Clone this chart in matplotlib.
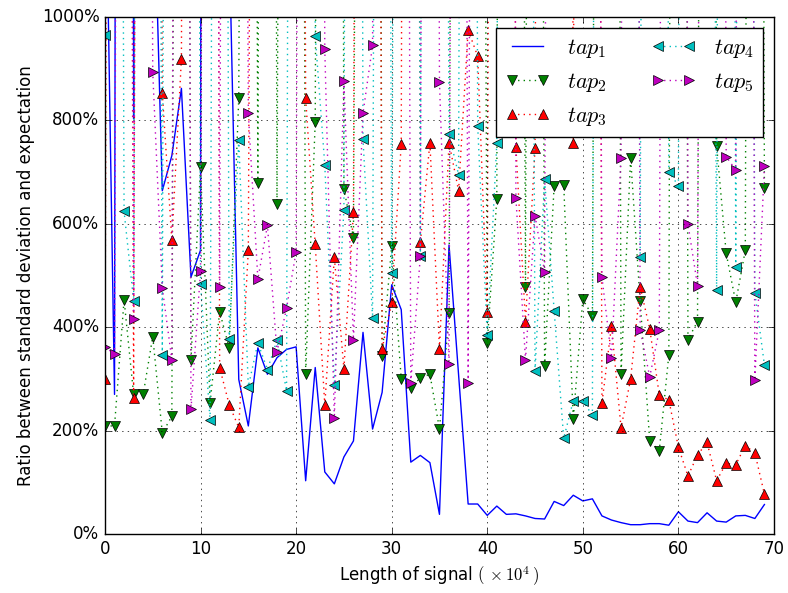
import numpy as np
import matplotlib
matplotlib.use("Agg")
import matplotlib.pyplot as plt
from matplotlib.ticker import PercentFormatter

plt.style.use("classic")

# signal length in units of 10^4
x = list(range(70))

# ratio std/expectation in %, values above 1000 run off the top of the chart
tap1 = [1400, 270, 12000, 803, 9000, 1340, 664, 732, 862, 497,
        549, 20000, 15000, 1150, 299, 209, 360, 309, 341, 357,
        362, 103, 322, 120, 97, 149, 180, 390, 203, 274,
        482, 434, 139, 152, 138, 38, 559, 308, 58, 58,
        36, 54, 38, 39, 35, 30, 29, 63, 55, 75,
        64, 68, 35, 27, 22, 18, 18, 20, 20, 17,
        43, 25, 22, 41, 25, 23, 35, 36, 30, 57]

tap2 = [209, 209, 453, 270, 270, 382, 195, 228, 6000, 337,
        709, 254, 430, 360, 843, 5200, 678, 7400, 639, 4800,
        6500, 310, 797, 5600, 8200, 668, 573, 4300, 7100, 345,
        557, 300, 283, 302, 309, 203, 427, 5900, 6800, 4500,
        370, 648, 7700, 5300, 478, 6200, 325, 674, 676, 222,
        454, 422, 5100, 6900, 309, 728, 450, 180, 161, 347,
        7300, 376, 411, 5500, 751, 543, 448, 549, 6600, 670]

tap3 = [299, 6100, 5400, 264, 7200, 4900, 853, 568, 919, 6300,
        5700, 8100, 322, 250, 206, 549, 4600, 7000, 5800, 6400,
        5000, 843, 560, 249, 535, 320, 622, 6700, 5300, 358,
        448, 755, 7500, 564, 757, 358, 757, 664, 975, 924,
        430, 6000, 5200, 748, 410, 746, 6800, 4700, 7300, 757,
        5600, 6200, 253, 403, 205, 300, 478, 397, 269, 259,
        168, 112, 153, 177, 103, 137, 134, 171, 157, 77]

tap4 = [966, 5800, 624, 451, 6600, 5100, 347, 7400, 4800, 6100,
        483, 220, 5500, 377, 762, 285, 370, 318, 375, 277,
        6900, 5300, 964, 714, 289, 627, 7100, 764, 418, 5900,
        504, 4600, 6300, 538, 7800, 5000, 773, 695, 6400, 789,
        384, 757, 5700, 7200, 4900, 315, 687, 432, 185, 258,
        257, 230, 6500, 5400, 7000, 4700, 536, 6000, 5200, 700,
        674, 6800, 5600, 4400, 472, 7500, 517, 5900, 467, 327]

tap5 = [362, 348, 6400, 416, 5200, 893, 476, 337, 7100, 241,
        509, 5600, 478, 6800, 4900, 814, 493, 597, 352, 437,
        546, 5900, 7300, 938, 224, 876, 376, 814, 945, 6200,
        4700, 5500, 293, 538, 7000, 874, 328, 6100, 293, 5300,
        7600, 4800, 6700, 650, 337, 616, 507, 5800, 6900, 5100,
        7200, 4600, 497, 341, 728, 6300, 395, 304, 394, 5700,
        6500, 600, 480, 5000, 7400, 730, 704, 6000, 297, 712]

fig = plt.figure(figsize=(7.88, 5.93), dpi=100, facecolor="white")
ax = fig.add_axes([0.1332, 0.0995, 0.8490, 0.8718])

ax.plot(x, tap1, "b-", label="$tap_1$")
ax.plot(x, tap2, "g:v", markersize=7.5, markeredgecolor="k", label="$tap_2$")
ax.plot(x, tap3, "r:^", markersize=7.5, markeredgecolor="k", label="$tap_3$")
ax.plot(x, tap4, "c:<", markersize=7.5, markeredgecolor="k", label="$tap_4$")
ax.plot(x, tap5, "m:>", markersize=7.5, markeredgecolor="k", label="$tap_5$")

ax.set_xlim(0, 70)
ax.set_ylim(0, 1000)
ax.set_xticks(range(0, 71, 10))
ax.set_yticks(range(0, 1001, 200))
ax.yaxis.set_major_formatter(PercentFormatter(xmax=100, decimals=0))
ax.grid(True)

ax.set_xlabel(r"Length of signal $(\,\times 10^4\,)$")
ax.set_ylabel("Ratio between standard deviation and expectation")
ax.legend(loc="upper right", ncol=2, fontsize=16)

fig.savefig("out.png", dpi=100, facecolor="white")
